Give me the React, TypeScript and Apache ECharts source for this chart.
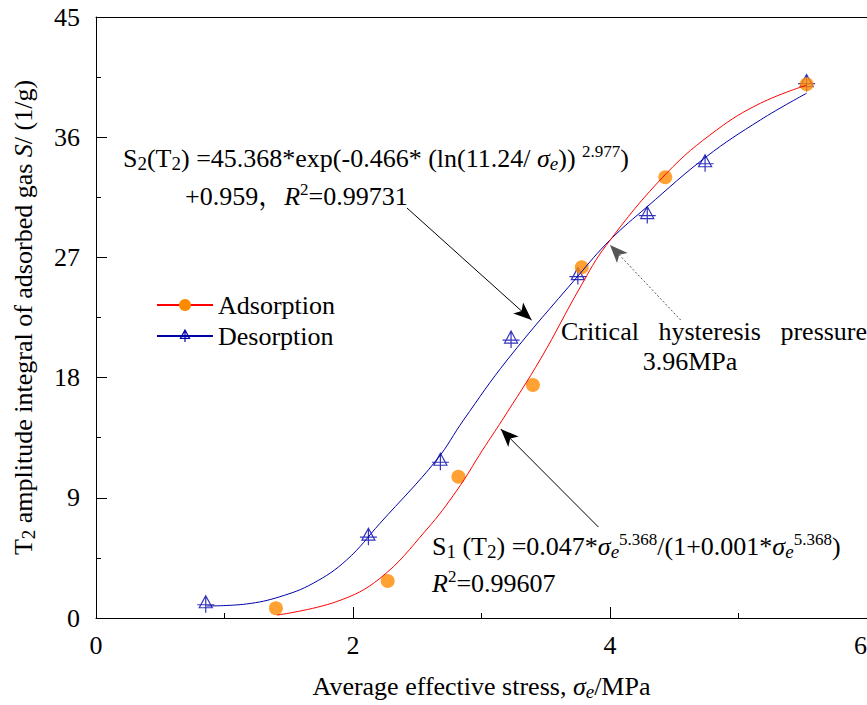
import React, { useEffect, useRef } from "react";
import * as echarts from "echarts";

const FONT = "'Liberation Serif', 'Times New Roman', 'Noto Serif CJK SC', 'Noto Sans CJK SC', serif";

// Axis ranges (tick labels 0,2,4,6 and 0,9,...,45)
const X_RANGE = [0, 6, 2];
const Y_RANGE = [0, 45, 9];

// Measured points
const adsX = [1.4, 2.27, 2.82, 3.4, 3.78, 4.43, 5.53];
const adsY = [0.73, 2.77, 10.58, 17.45, 26.26, 33.0, 39.96];
const desX = [0.854, 2.12, 2.68, 3.23, 3.75, 4.29, 4.74, 5.53];
const desY = [1.03, 6.09, 11.7, 20.85, 25.6, 30.17, 34.05, 40.05];

// Fitted curves
const adsFitX = [1.41, 1.87, 2.21, 2.57, 2.81, 3.01, 3.16, 3.46, 3.77, 3.97, 4.44, 4.83, 5.17, 5.53];
const adsFitY = [0.22, 1.22, 2.97, 6.59, 9.58, 12.6, 14.8, 19.4, 24.8, 27.9, 33.3, 36.54, 38.54, 39.9];
const desFitX = [0.861, 1.17, 1.43, 1.69, 1.95, 2.21, 2.65, 2.86, 3.2, 3.75, 4.0, 4.29, 4.75, 5.17, 5.53];
const desFitY = [0.9, 1.05, 1.59, 2.6, 4.34, 7.09, 11.83, 14.82, 19.32, 25.6, 28.3, 30.8, 34.54, 37.29, 39.29];

// Annotation arrows in data units: [startX, startY, tipX, tipY]
const arrowS2 = [2.42, 30.7, 3.39, 22.31];
const arrowS1 = [3.91, 6.81, 3.15, 14.15];
const arrowCrit = [4.55, 22.31, 4.0, 27.93];

const SERIES_NAMES = ["Adsorption", "Desorption"];

const RED = "#FF0000";
const ORANGE = "#FF8A00";
const BLUE = "#0000AA";
const TRI = "path://M8.5 0 L15 12 L2 12 Z M8.5 0 L8.5 17 M0 9 L17 9";

const zip = (xs: number[], ys: number[]) => xs.map((x, i) => [x, ys[i]]);

const rich: any = {
  n: { fontSize: 26, fontFamily: FONT, color: "#000", lineHeight: 30 },
  i: { fontSize: 26, fontFamily: FONT, fontStyle: "italic", color: "#000", lineHeight: 30 },
  sub: { fontSize: 19, fontFamily: FONT, color: "#000", lineHeight: 21, verticalAlign: "bottom" },
  isub: { fontSize: 19, fontFamily: FONT, fontStyle: "italic", color: "#000", lineHeight: 21, verticalAlign: "bottom" },
  sup: { fontSize: 17, fontFamily: FONT, color: "#000", lineHeight: 18, verticalAlign: "top" },
};

const txt = (x: number, y: number, text: string, align = "left") => ({
  type: "text",
  x,
  y,
  silent: true,
  style: {
    text,
    rich,
    align,
    textAlign: align,
    verticalAlign: "top",
    textVerticalAlign: "top",
    fill: "#000",
    fontSize: 26,
    fontFamily: FONT,
  },
});

const arrow = (a: number[], style: any) => [
  { coord: [a[0], a[1]] },
  { coord: [a[2], a[3]], lineStyle: style },
];

export default function App() {
  const ref = useRef<HTMLDivElement>(null);

  useEffect(() => {
    document.body.style.margin = "0";
    if (!ref.current) return;
    const chart = echarts.init(ref.current, undefined, { renderer: "svg" });
    const axisLine = { show: true, lineStyle: { color: "#000", width: 1 } };
    const option: any = {
      animation: false,
      backgroundColor: "#fff",
      grid: { left: 96, right: 0, top: 17, bottom: 87, containLabel: false, outerBoundsMode: "none" },
      legend: {
        data: [
          { name: SERIES_NAMES[0], itemStyle: { color: ORANGE, borderWidth: 0 } },
          {
            name: SERIES_NAMES[1],
            itemStyle: { color: "rgba(0,0,0,0)", borderColor: BLUE, borderWidth: 1.2 },
          },
        ],
        orient: "vertical",
        left: 151,
        top: 287,
        itemWidth: 56,
        itemHeight: 15,
        itemGap: 5,
        textStyle: { fontSize: 26, fontFamily: FONT, color: "#000" },
        selectedMode: false,
      },
      xAxis: [
        {
          type: "value",
          min: X_RANGE[0],
          max: X_RANGE[1],
          interval: X_RANGE[2],
          position: "bottom",
          axisLine,
          axisTick: { show: true, inside: true, length: 11, lineStyle: { color: "#000" } },
          minorTick: { show: true, splitNumber: 2, length: 5, lineStyle: { color: "#000" } },
          splitLine: { show: false },
          axisLabel: { fontSize: 26, fontFamily: FONT, color: "#000", margin: 14, alignMaxLabel: "right" },
          name: "Average effective stress, {i|σ}{isub|e}/MPa",
          nameLocation: "middle",
          nameGap: 53,
          nameTextStyle: { fontSize: 26, fontFamily: FONT, color: "#000", rich },
        },
        {
          type: "value",
          min: X_RANGE[0],
          max: X_RANGE[1],
          position: "top",
          axisLine,
          axisTick: { show: false },
          axisLabel: { show: false },
          splitLine: { show: false },
        },
      ],
      yAxis: {
        type: "value",
        min: Y_RANGE[0],
        max: Y_RANGE[1],
        interval: Y_RANGE[2],
        axisLine,
        axisTick: { show: true, inside: true, length: 11, lineStyle: { color: "#000" } },
        minorTick: { show: true, splitNumber: 2, length: 5, lineStyle: { color: "#000" } },
        splitLine: { show: false },
        axisLabel: { fontSize: 26, fontFamily: FONT, color: "#000", margin: 16 },
        name: "T{sub|2} amplitude integral of adsorbed gas {i|S}/ (1/g)",
        nameLocation: "middle",
        nameGap: 58,
        nameRotate: 90,
        nameTextStyle: { fontSize: 26, fontFamily: FONT, color: "#000", rich },
      },
      series: [
        {
          name: "Desorption",
          type: "line",
          data: zip(desFitX, desFitY),
          smooth: 0.4,
          showSymbol: false,
          symbol: TRI,
          symbolSize: [17, 17],
          lineStyle: { color: BLUE, width: 1 },
          itemStyle: { color: "rgba(0,0,0,0)", borderColor: BLUE, borderWidth: 1.2 },
          silent: true,
        },
        {
          name: "Adsorption",
          type: "line",
          data: zip(adsFitX, adsFitY),
          smooth: 0.4,
          showSymbol: false,
          symbol: "circle",
          symbolSize: 14,
          lineStyle: { color: RED, width: 1 },
          itemStyle: { color: ORANGE },
          silent: true,
        },
        {
          name: "desPoints",
          type: "scatter",
          data: zip(desX, desY),
          symbol: TRI,
          symbolSize: [17, 17],
          itemStyle: { color: "rgba(0,0,0,0)", borderColor: BLUE, borderWidth: 1.2 },
          silent: true,
        },
        {
          name: "adsPoints",
          type: "scatter",
          data: zip(adsX, adsY),
          symbol: "circle",
          symbolSize: 14,
          itemStyle: { color: ORANGE },
          silent: true,
          markLine: {
            silent: true,
            symbol: ["none", "arrow"],
            symbolSize: [11, 18],
            label: { show: false },
            lineStyle: { color: "#000", width: 1, type: "solid" },
            itemStyle: { color: "#000" },
            data: [
              arrow(arrowS2, { color: "#000", width: 1, type: "solid" }),
              arrow(arrowS1, { color: "#000", width: 1, type: "solid" }),
              arrow(arrowCrit, { color: "#555", width: 1, type: [2, 2] }),
            ],
          },
        },
      ],
      graphic: [
        txt(123, 143, "{n|S}{sub|2}{n|(T}{sub|2}{n|) =45.368*exp(-0.466* (ln(11.24/ }{i|σ}{isub|e}{n|)) }{sup|2.977}{n|)}"),
        txt(185, 181, "{n|+0.959，}{i|R}{sup|2}{n|=0.99731}"),
        txt(432, 531, "{n|S}{sub|1}{n| (T}{sub|2}{n|) =0.047*}{i|σ}{isub|e}{sup|5.368}{n|/(1+0.001*}{i|σ}{isub|e}{sup|5.368}{n|)}"),
        txt(432, 568, "{i|R}{sup|2}{n|=0.99607}"),
        txt(714, 316, "{n|Critical   hysteresis   pressure}", "center"),
        txt(690, 346, "{n|3.96MPa}", "center"),
      ],
    };
    chart.setOption(option);
    return () => chart.dispose();
  }, []);

  return <div ref={ref} style={{ width: 867, height: 705 }} />;
}
